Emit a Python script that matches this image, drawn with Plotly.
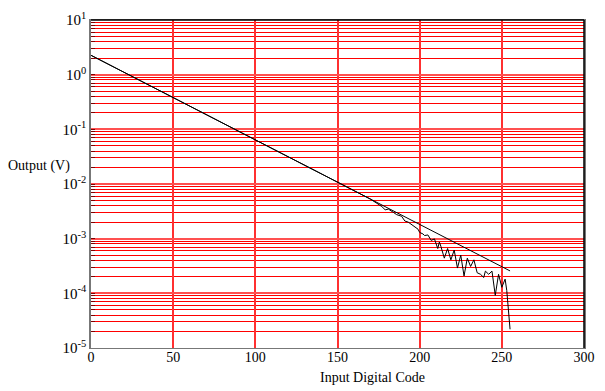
import plotly.graph_objects as go

# Ideal (straight) line endpoints
ideal_code = [0, 255]
ideal_out = [2.26, 2.57e-4]

# Measured output
meas_code = [0, 50, 100, 150, 170, 174, 177, 179, 181, 184, 186, 189, 191, 193, 195, 197, 199,
             200, 202, 203, 205, 207, 209, 211, 212, 213, 215, 217, 219, 221, 223, 225, 227,
             229, 231, 233, 235, 237, 239, 240, 242, 244, 246, 248, 250, 252, 253, 255]
meas_out = [2.26, 0.381, 0.0641, 0.0108, 5.3e-3, 4.43e-3, 3.86e-3, 3.37e-3, 3.47e-3, 3.03e-3,
            2.75e-3, 2.57e-3, 2.10e-3, 2.01e-3, 1.83e-3, 1.66e-3, 1.49e-3, 1.30e-3, 1.22e-3,
            1.14e-3, 1.17e-3, 9.3e-4, 9.9e-4, 6.6e-4, 8.7e-4, 7.1e-4, 4.4e-4, 6.6e-4, 4.1e-4,
            6.2e-4, 2.9e-4, 5.0e-4, 2.08e-4, 4.4e-4, 3.1e-4, 4.1e-4, 2.38e-4, 2.23e-4, 1.95e-4,
            2.55e-4, 2.23e-4, 2.55e-4, 9.2e-5, 2.23e-4, 1.29e-4, 1.82e-4, 1.13e-4, 2.2e-5]

x_ticks = [0, 50, 100, 150, 200, 250, 300]
y_ticks = [1e-5, 1e-4, 1e-3, 1e-2, 1e-1, 1, 10]
y_tick_text = ["10<sup>-5</sup>", "10<sup>-4</sup>", "10<sup>-3</sup>", "10<sup>-2</sup>",
               "10<sup>-1</sup>", "10<sup>0</sup>", "10<sup>1</sup>"]

FONT = "Liberation Serif, Times New Roman, serif"

fig = go.Figure()
fig.add_trace(go.Scatter(x=ideal_code, y=ideal_out, mode="lines",
                         line=dict(color="black", width=1), showlegend=False))
fig.add_trace(go.Scatter(x=meas_code, y=meas_out, mode="lines",
                         line=dict(color="black", width=1), showlegend=False))

fig.update_layout(
    width=605, height=391,
    margin=dict(l=91, r=11, t=10, b=43),
    paper_bgcolor="white", plot_bgcolor="white",
    font=dict(family=FONT, size=14, color="black"),
    xaxis=dict(range=[0, 300], tickvals=x_ticks, showgrid=True, gridcolor="#ff3030",
               gridwidth=2, zeroline=False, showline=True, linecolor="#777777", linewidth=1,
               mirror=True, ticks="", ticklabelstandoff=-4,
               tickfont=dict(family=FONT, size=14)),
    yaxis=dict(type="log", range=[-5, 1], tickvals=y_ticks, ticktext=y_tick_text,
               showgrid=True, gridcolor="#ff5050", gridwidth=2,
               minor=dict(tickmode="linear", dtick="D1", showgrid=True, gridcolor="#ff0000",
                          gridwidth=1, ticks="inside", ticklen=4, tickcolor="#800000"),
               ticks="inside", ticklen=4, tickcolor="#800000",
               zeroline=False, showline=True, linecolor="#777777", linewidth=1.5, mirror=True,
               tickfont=dict(family=FONT, size=15)),
    annotations=[
        dict(text="Output (V)", xref="paper", yref="paper", x=-0.038, y=0.556,
             xanchor="right", yanchor="middle", showarrow=False,
             font=dict(family=FONT, size=14)),
        dict(text="Input Digital Code", xref="paper", yref="paper", x=0.571, y=-0.089,
             xanchor="center", yanchor="middle", showarrow=False,
             font=dict(family=FONT, size=14)),
    ],
    shapes=[
        dict(type="line", xref="paper", yref="paper", x0=0, x1=1, y0=1, y1=1,
             line=dict(color="black", width=1.5)),
        dict(type="line", xref="paper", yref="paper", x0=1, x1=1, y0=0, y1=1,
             line=dict(color="black", width=1.5)),
    ],
)

fig.write_html("out.html", config={"displayModeBar": False},
               post_script="document.body.style.margin='0';document.body.style.padding='0';")
